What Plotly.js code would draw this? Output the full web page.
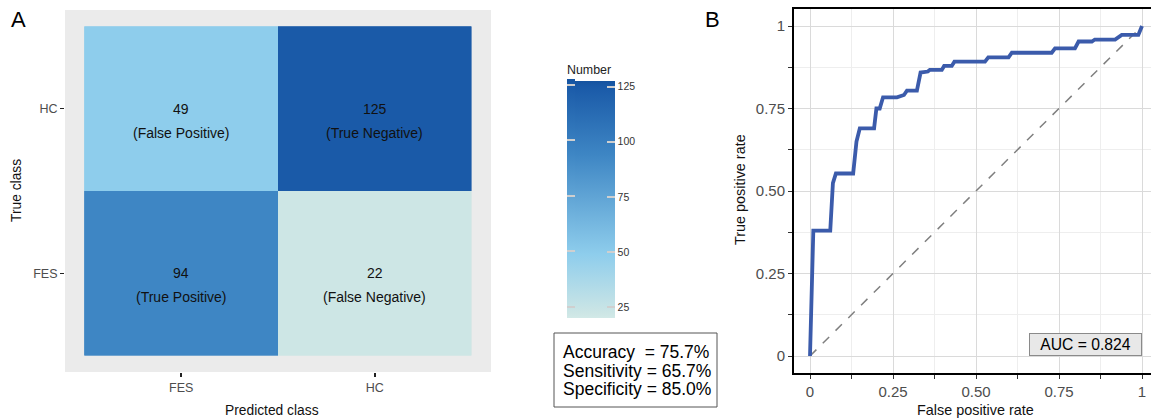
<!DOCTYPE html>
<html>
<head>
<meta charset="utf-8">
<script src="https://cdn.plot.ly/plotly-3.0.1.min.js"></script>
<style>html,body{margin:0;padding:0;background:#fff;}#chart{width:1151px;height:419px;}</style>
</head>
<body>
<div id="chart"></div>
<script>
// ---- Data ----
const classes = ['FES', 'HC'];
const cmCounts = [[94, 22], [49, 125]];            // rows: true FES, true HC; cols: predicted FES, HC
const cmLabels = [['(True Positive)', '(False Negative)'], ['(False Positive)', '(True Negative)']];
const cbTicks = [25, 50, 75, 100, 125];
const statNames = ['Accuracy  = ', 'Sensitivity = ', 'Specificity = '];
const statValues = ['75.7%', '65.7%', '85.0%'];
const fpr = [0, 0.01, 0.061, 0.069, 0.078, 0.13, 0.14, 0.15, 0.193, 0.2, 0.21, 0.22, 0.262, 0.271, 0.283, 0.292, 0.322, 0.333, 0.355, 0.361, 0.397, 0.404, 0.427, 0.435, 0.527, 0.537, 0.598, 0.608, 0.728, 0.738, 0.798, 0.809, 0.849, 0.858, 0.919, 0.939, 0.989, 1.0];
const tpr = [0, 0.38, 0.38, 0.524, 0.553, 0.553, 0.65, 0.69, 0.69, 0.75, 0.75, 0.784, 0.784, 0.788, 0.791, 0.804, 0.804, 0.859, 0.862, 0.867, 0.867, 0.879, 0.879, 0.892, 0.892, 0.905, 0.905, 0.919, 0.919, 0.932, 0.932, 0.953, 0.953, 0.959, 0.959, 0.973, 0.973, 1.0];
const chanceLine = [0, 1];
const aucText = 'AUC = 0.824';
const rocTickVals = [0, 0.25, 0.5, 0.75, 1];
const rocTickText = ['0', '0.25', '0.50', '0.75', '1'];

// ---- Styling / geometry ----
const W = 1151, H = 419;
const FONT = 'Liberation Sans, Arial, Helvetica, sans-serif';
const px = v => v / W, py = v => 1 - v / H;
const zmin = 20, zmax = 127.6;
const norm = v => (v - zmin) / (zmax - zmin);
const colorscale = [
  [0, '#d2e9e7'], [norm(22), '#cde6e5'], [norm(49), '#8ecdec'],
  [norm(94), '#3e86c4'], [norm(125), '#1a5aa8'], [1, '#15539f']
];
const cbBottom = 318, cbTop = 79, cbLeft = 567, cbThick = 48, cbTitleSpace = 17;
const cbTickStyle = {ticks: 'inside', ticklen: 8, tickwidth: 2, tickcolor: '#cfcfcf'};

const heat = {
  type: 'heatmap', x: classes, y: classes, z: cmCounts,
  zmin: zmin, zmax: zmax, colorscale: colorscale,
  xaxis: 'x', yaxis: 'y', hoverinfo: 'skip',
  colorbar: Object.assign({
    x: px(cbLeft), xanchor: 'left', xpad: 0,
    y: py(cbBottom), yanchor: 'bottom', ypad: 0,
    len: cbBottom - cbTop + cbTitleSpace, lenmode: 'pixels',
    thickness: cbThick, thicknessmode: 'pixels',
    outlinewidth: 0, tickvals: cbTicks,
    tickfont: {family: FONT, size: 10.5, color: '#333'},
    title: {text: 'Number', side: 'top', font: {family: FONT, size: 12.4, color: '#222'}}
  }, cbTickStyle)
};
// identical copy of the matrix, used only to give the colour bar its left-edge tick marks
const heatLeftTicks = {
  type: 'heatmap', x: classes, y: classes, z: cmCounts,
  zmin: zmin, zmax: zmax, colorscale: colorscale,
  xaxis: 'x', yaxis: 'y', hoverinfo: 'skip',
  colorbar: Object.assign({
    x: px(cbLeft), xanchor: 'left', xpad: 0,
    y: py(cbBottom), yanchor: 'bottom', ypad: 0,
    len: cbBottom - cbTop, lenmode: 'pixels',
    thickness: 8, thicknessmode: 'pixels',
    outlinewidth: 0, tickvals: cbTicks, showticklabels: false
  }, cbTickStyle)
};

const roc = {
  type: 'scatter', mode: 'lines', x: fpr, y: tpr, xaxis: 'x2', yaxis: 'y2',
  line: {color: '#3b5bab', width: 3.8}, hoverinfo: 'skip', showlegend: false
};
const diag = {
  type: 'scatter', mode: 'lines', x: chanceLine, y: chanceLine, xaxis: 'x2', yaxis: 'y2',
  line: {color: '#7f7f7f', width: 1.5, dash: 'dash'}, hoverinfo: 'skip', showlegend: false
};

const annotations = [];
function pap(x, y, text, size, extra) {
  return Object.assign({xref: 'paper', yref: 'paper', x: px(x), y: py(y), xanchor: 'center', yanchor: 'middle',
    text: text, showarrow: false, font: {family: FONT, size: size, color: '#111'}}, extra || {});
}
// cell texts
for (let i = 0; i < classes.length; i++) {
  for (let j = 0; j < classes.length; j++) {
    annotations.push({x: classes[j], y: classes[i], xref: 'x', yref: 'y', text: String(cmCounts[i][j]),
      xanchor: 'center', yanchor: 'middle', showarrow: false, font: {family: FONT, size: 14, color: '#111'}});
    annotations.push({x: classes[j], y: classes[i], xref: 'x', yref: 'y', text: cmLabels[i][j], yshift: -24,
      xanchor: 'center', yanchor: 'middle', showarrow: false, font: {family: FONT, size: 14, color: '#111'}});
  }
}
// stats box lines
statNames.forEach((n, k) => {
  annotations.push(pap(561, 352 + k * 18.5, n + statValues[k], 17.5, {xanchor: 'left', font: {family: FONT, size: 17.5, color: '#000'}}));
});
// axis titles & panel labels
annotations.push(
  pap(272, 410, 'Predicted class', 13.8),
  pap(16, 191, 'True class', 13.8, {textangle: -90}),
  pap(975, 410, 'False positive rate', 14.4),
  pap(740, 190, 'True positive rate', 14.4, {textangle: -90}),
  pap(18, 20, 'A', 22, {font: {family: FONT, size: 22, color: '#000'}}),
  pap(712, 20, 'B', 22, {font: {family: FONT, size: 22, color: '#000'}}),
  pap(1085, 344, aucText, 15.7, {width: 108, height: 18, bgcolor: '#e8e8e8', bordercolor: '#8a8a8a',
    borderwidth: 1, borderpad: 1.5, font: {family: FONT, size: 15.7, color: '#000'}})
);

const shapes = [
  // grey panel behind the confusion matrix
  {type: 'rect', xref: 'x domain', yref: 'y domain', x0: 0, x1: 1, y0: 0, y1: 1, layer: 'below',
   line: {width: 0}, fillcolor: '#ebebeb'},
  // stats box
  {type: 'rect', xref: 'paper', yref: 'paper', x0: px(554), x1: px(717), y0: py(407), y1: py(333),
   line: {color: '#555', width: 1}, fillcolor: 'rgba(0,0,0,0)'}
];

const layout = {
  width: W, height: H, margin: {l: 0, r: 0, t: 0, b: 0},
  paper_bgcolor: '#fff', plot_bgcolor: '#fff', showlegend: false,
  font: {family: FONT},
  xaxis: {domain: [px(65), px(491)], range: [-0.6, 1.6], showgrid: false, zeroline: false,
    ticks: 'outside', ticklen: 4, tickwidth: 1.5, tickcolor: '#222',
    tickfont: {family: FONT, size: 12.5, color: '#4d4d4d'}, fixedrange: true},
  yaxis: {domain: [py(372), py(10)], range: [-0.6, 1.6], showgrid: false, zeroline: false,
    ticks: 'outside', ticklen: 4, tickwidth: 1.5, tickcolor: '#222',
    tickfont: {family: FONT, size: 12.5, color: '#4d4d4d'}, fixedrange: true},
  xaxis2: {domain: [px(794), 1], range: [-0.0482, 1.0271], anchor: 'y2',
    tickvals: rocTickVals, ticktext: rocTickText,
    showgrid: true, gridcolor: '#dadada', gridwidth: 1, zeroline: false,
    showline: true, linecolor: '#000', linewidth: 2, mirror: true,
    ticks: 'outside', ticklen: 4, tickwidth: 1, tickcolor: '#333',
    minor: {dtick: 0.125, tick0: 0, showgrid: true, gridcolor: '#eeeeee', gridwidth: 1, ticks: 'outside', ticklen: 4, tickcolor: '#333'},
    tickfont: {family: FONT, size: 15, color: '#4d4d4d'}},
  yaxis2: {domain: [py(373), py(9)], range: [-0.0515, 1.0515], anchor: 'x2',
    tickvals: rocTickVals, ticktext: rocTickText,
    showgrid: true, gridcolor: '#dadada', gridwidth: 1, zeroline: false,
    showline: true, linecolor: '#000', linewidth: 2, mirror: false,
    ticks: 'outside', ticklen: 4, tickwidth: 1, tickcolor: '#333',
    minor: {dtick: 0.125, tick0: 0, showgrid: true, gridcolor: '#eeeeee', gridwidth: 1, ticks: 'outside', ticklen: 4, tickcolor: '#333'},
    tickfont: {family: FONT, size: 15, color: '#4d4d4d'}},
  annotations: annotations, shapes: shapes
};

Plotly.newPlot('chart', [heat, heatLeftTicks, diag, roc], layout, {staticPlot: true, displayModeBar: false});
</script>
</body>
</html>
